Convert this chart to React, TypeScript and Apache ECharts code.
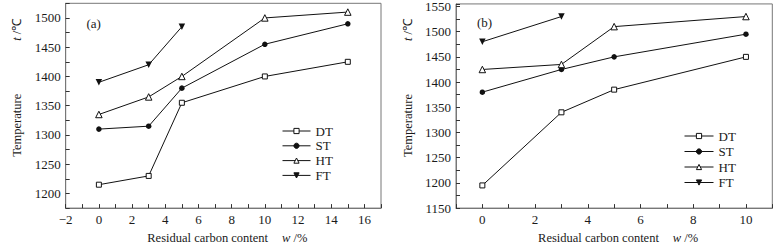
import React, { useEffect, useRef } from "react";
import * as echarts from "echarts";

// Panel (a)
const X_A = [0, 3, 5, 10, 15];
const DT_A = [1215, 1230, 1355, 1400, 1425];
const ST_A = [1310, 1315, 1380, 1455, 1490];
const HT_A = [1335, 1365, 1400, 1500, 1510];
const X_FT_A = [0, 3, 5];
const FT_A = [1390, 1420, 1485];

// Panel (b)
const X_B = [0, 3, 5, 10];
const DT_B = [1195, 1340, 1385, 1450];
const ST_B = [1380, 1425, 1450, 1495];
const HT_B = [1425, 1435, 1510, 1530];
const X_FT_B = [0, 3];
const FT_B = [1480, 1530];

const SERIES_NAMES = ["DT", "ST", "HT", "FT"];
const PANEL_LABELS = ["(a)", "(b)"];
const X_NAME = "Residual carbon content";
const Y_NAME = "Temperature";

const FONT = "Liberation Serif";
const TXT = "#1a1a1a";
const LINE = "#111";
const BOX = "#777";

const zip = (xs: number[], ys: number[]) => xs.map((x, i) => [x, ys[i]]);

const fmtX = (v: number) => {
  if (Math.abs(v % 2) > 1e-9) return "";
  return v < 0 ? "\u2212" + String(-v) : String(v);
};
const fmtY = (v: number) => (Math.abs(v % 50) < 1e-9 ? String(v) : "");

export default function App() {
  const ref = useRef<HTMLDivElement>(null);
  useEffect(() => {
    if (!ref.current) return;
    const chart = echarts.init(ref.current, undefined, { renderer: "svg" });

    const grids = [
      { left: 65.7, top: 3.3, width: 315.3, height: 208.4 },
      { left: 456, top: 3.3, width: 316.3, height: 208.4 },
    ];
    const xRanges = [
      [-2, 17],
      [-1, 11],
    ];
    const yRanges = [
      [1175, 1525],
      [1150, 1555],
    ];

    const xAxis = [0, 1].map((i) => ({
      type: "value",
      gridIndex: i,
      min: xRanges[i][0],
      max: xRanges[i][1],
      interval: 1,
      name: `{s0| }{a|${X_NAME}}{s| }{i|w}{a| /%}`,
      nameLocation: "middle",
      nameGap: 11,
      nameTextStyle: {
        fontFamily: FONT,
        fontSize: 12.5,
        color: TXT,
        rich: {
          s0: { width: 8 },
          s: { width: 14 },
          a: { fontFamily: FONT, fontSize: 12.5, color: TXT },
          i: { fontFamily: FONT, fontSize: 12.5, color: TXT, fontStyle: "italic" },
        },
      },
      axisLine: { show: true, onZero: false, lineStyle: { color: BOX, width: 1 } },
      axisTick: { show: true, inside: true, length: 4, lineStyle: { color: "#333" } },
      axisLabel: {
        formatter: fmtX,
        fontFamily: FONT,
        fontSize: 13,
        color: TXT,
        margin: 5,
        showMinLabel: true,
        showMaxLabel: true,
      },
      splitLine: { show: false },
    }));

    const yAxis = [0, 1].map((i) => ({
      type: "value",
      gridIndex: i,
      min: yRanges[i][0],
      max: yRanges[i][1],
      interval: 25,
      name: `{s0| }{a|${Y_NAME}}{s| }{i|t}{a| /\u2103}`,
      nameLocation: "middle",
      nameRotate: 90,
      nameGap: 42,
      nameTextStyle: {
        fontFamily: FONT,
        fontSize: 12.5,
        color: TXT,
        rich: {
          s0: { width: 36 },
          s: { width: 53 },
          a: { fontFamily: FONT, fontSize: 12.5, color: TXT },
          i: { fontFamily: FONT, fontSize: 12.5, color: TXT, fontStyle: "italic" },
        },
      },
      axisLine: { show: true, onZero: false, lineStyle: { color: BOX, width: 1 } },
      axisTick: { show: true, inside: true, length: 4, lineStyle: { color: "#333" } },
      axisLabel: {
        formatter: fmtY,
        fontFamily: FONT,
        fontSize: 13,
        color: TXT,
        margin: 5,
        showMinLabel: true,
        showMaxLabel: true,
      },
      splitLine: { show: false },
    }));

    const panels = [
      { dt: zip(X_A, DT_A), st: zip(X_A, ST_A), ht: zip(X_A, HT_A), ft: zip(X_FT_A, FT_A) },
      { dt: zip(X_B, DT_B), st: zip(X_B, ST_B), ht: zip(X_B, HT_B), ft: zip(X_FT_B, FT_B) },
    ];

    const mk = (
      name: string,
      data: number[][],
      i: number,
      symbol: string,
      size: number,
      hollow: boolean,
      rotate = 0
    ) => ({
      type: "line",
      name,
      xAxisIndex: i,
      yAxisIndex: i,
      data,
      symbol,
      symbolSize: size,
      symbolRotate: rotate,
      showAllSymbol: true,
      color: LINE,
      itemStyle: { color: hollow ? "#fff" : LINE, borderColor: LINE, borderWidth: hollow ? 1 : 0 },
      lineStyle: { color: LINE, width: 1 },
      emphasis: { disabled: true },
      z: 3,
    });

    const series: any[] = [];
    panels.forEach((p, i) => {
      series.push(mk(SERIES_NAMES[0], p.dt, i, "rect", 5, true));
      series.push(mk(SERIES_NAMES[1], p.st, i, "circle", 5.5, false));
      series.push(mk(SERIES_NAMES[2], p.ht, i, "triangle", 6.5, true));
      series.push(mk(SERIES_NAMES[3], p.ft, i, "triangle", 6.5, false, 180));
    });

    const legendBase = {
      orient: "vertical",
      itemWidth: 28,
      itemHeight: 6.5,
      padding: 0,
      selectedMode: false,
      data: SERIES_NAMES,
      itemStyle: { borderWidth: 1 },
      lineStyle: { width: 1 },
      textStyle: { fontFamily: FONT, fontSize: 13, color: TXT },
    };

    chart.setOption({
      animation: false,
      backgroundColor: "#fff",
      grid: grids.map((g) => ({
        ...g,
        show: true,
        borderColor: BOX,
        borderWidth: 1,
        containLabel: false,
      })),
      title: [
        {
          text: PANEL_LABELS[0],
          left: 86.5,
          top: 16.5,
          padding: 0,
          textStyle: { fontFamily: FONT, fontSize: 13, fontWeight: "normal", color: TXT },
        },
        {
          text: PANEL_LABELS[1],
          left: 477,
          top: 16,
          padding: 0,
          textStyle: { fontFamily: FONT, fontSize: 13, fontWeight: "normal", color: TXT },
        },
      ],
      legend: [
        { ...legendBase, left: 282, top: 124.5, itemGap: 1.8 },
        { ...legendBase, left: 684, top: 129.5, itemGap: 2.5, itemWidth: 29 },
      ],
      xAxis,
      yAxis,
      series,
    });

    return () => chart.dispose();
  }, []);

  return (
    <div
      ref={ref}
      style={{ position: "absolute", left: 0, top: 0, width: 782, height: 249, background: "#fff" }}
    />
  );
}
